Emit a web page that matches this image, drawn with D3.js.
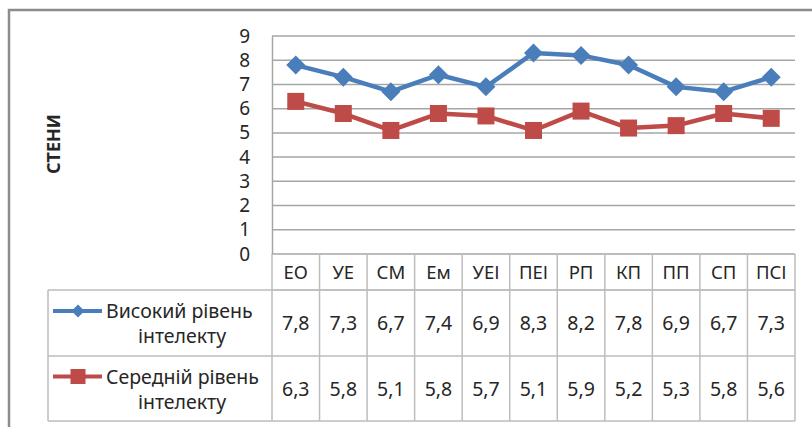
<!DOCTYPE html>
<html>
<head>
<meta charset="utf-8">
<script src="https://cdn.jsdelivr.net/npm/d3@7/dist/d3.min.js"></script>
<style>
  body { margin: 0; background: #fff; }
  svg text { font-family: "Noto Sans", "Open Sans", sans-serif; fill: #262626; }
</style>
</head>
<body>
<svg id="chart" width="812" height="427"></svg>
<script>
// Data
var categories = ["ЕО", "УЕ", "СМ", "Ем", "УЕІ", "ПЕІ", "РП", "КП", "ПП", "СП", "ПСІ"];
var highValues = [7.8, 7.3, 6.7, 7.4, 6.9, 8.3, 8.2, 7.8, 6.9, 6.7, 7.3];
var midValues = [6.3, 5.8, 5.1, 5.8, 5.7, 5.1, 5.9, 5.2, 5.3, 5.8, 5.6];
var seriesNames = [["Високий рівень", "інтелекту"], ["Середній рівень", "інтелекту"]];
var yTicks = [0, 1, 2, 3, 4, 5, 6, 7, 8, 9];
var yTitle = "СТЕНИ";

var series = [
    { name: seriesNames[0], values: highValues, color: "#4A7EBB", marker: "diamond" },
    { name: seriesNames[1], values: midValues, color: "#BE4B48", marker: "square" }
];

var svg = d3.select("#chart");
var plot = { left: 272, right: 795, top: 36, bottom: 254 };
var table = { left: 48, headerBottom: 290, row1Bottom: 356, bottom: 421 };
var gridColor = "#a6a6a6";
var tableColor = "#bdbdbd";

var x = d3.scaleBand().domain(categories).range([plot.left, plot.right]);
var y = d3.scaleLinear().domain([0, 9]).range([plot.bottom, plot.top]);

// Outer frame (only top and left are in view)
svg.append("path")
    .attr("d", "M9,427 V10 H812")
    .attr("fill", "none")
    .attr("stroke", "#8c8c8c")
    .attr("stroke-width", 2.5);

// Gridlines
svg.append("g").selectAll("line")
    .data(yTicks)
    .enter()
    .append("line")
    .attr("x1", plot.left)
    .attr("x2", plot.right)
    .attr("y1", function (d) { return y(d); })
    .attr("y2", function (d) { return y(d); })
    .attr("stroke", gridColor)
    .attr("stroke-width", 1.5);

// Y axis
var yAxis = svg.append("g")
    .attr("transform", "translate(" + plot.left + ",0)")
    .call(d3.axisLeft(y).tickValues(yTicks).tickSize(0).tickPadding(22));
yAxis.select(".domain").attr("stroke", gridColor).attr("stroke-width", 1.5);
yAxis.selectAll("text")
    .attr("font-size", 19)
    .style("font-family", "'Noto Sans', sans-serif")
    .attr("fill", "#262626");

// Axis title
svg.append("text")
    .attr("transform", "translate(60,144) rotate(-90)")
    .attr("text-anchor", "middle")
    .attr("font-size", 18)
    .attr("font-weight", "bold")
    .text(yTitle);

// Data table grid
var tg = svg.append("g")
    .attr("stroke", tableColor)
    .attr("stroke-width", 1.5);
// vertical lines between category columns
tg.selectAll("line.v")
    .data(categories.map(function (c) { return x(c); }).concat([plot.right]))
    .enter()
    .append("line")
    .attr("class", "v")
    .attr("x1", function (d) { return d; })
    .attr("x2", function (d) { return d; })
    .attr("y1", plot.bottom)
    .attr("y2", table.bottom);
// horizontal lines
[
    [plot.left, table.headerBottom], [table.left, table.headerBottom],
    [table.left, table.row1Bottom], [table.left, table.bottom]
].forEach(function (h) {
    tg.append("line")
        .attr("x1", h[0]).attr("x2", plot.right)
        .attr("y1", h[1]).attr("y2", h[1]);
});
tg.append("line")
    .attr("x1", table.left).attr("x2", table.left)
    .attr("y1", table.headerBottom).attr("y2", table.bottom);

// Category header
svg.append("g").selectAll("text")
    .data(categories)
    .enter()
    .append("text")
    .attr("x", function (d) { return x(d) + x.bandwidth() / 2; })
    .attr("y", (plot.bottom + table.headerBottom) / 2 + 7)
    .attr("text-anchor", "middle")
    .attr("font-size", 18.5)
    .text(function (d) { return d; });

function drawMarker(g, type, cx, cy, color, s) {
    if (type === "diamond") {
        g.append("path")
            .attr("d", "M" + cx + "," + (cy - s) + " L" + (cx + s) + "," + cy + " L" + cx + "," + (cy + s) + " L" + (cx - s) + "," + cy + " Z")
            .attr("fill", color);
    } else {
        g.append("rect")
            .attr("x", cx - s).attr("y", cy - s)
            .attr("width", s * 2).attr("height", s * 2)
            .attr("fill", color);
    }
}

var rowBounds = [[table.headerBottom, table.row1Bottom], [table.row1Bottom, table.bottom]];
var fmt = function (v) { return d3.format(".1f")(v).replace(".", ","); };

series.forEach(function (s, i) {
    var g = svg.append("g");
    // line
    g.append("path")
        .datum(s.values)
        .attr("fill", "none")
        .attr("stroke", s.color)
        .attr("stroke-width", 4.5)
        .attr("stroke-linejoin", "round")
        .attr("d", d3.line()
            .x(function (d, k) { return x(categories[k]) + x.bandwidth() / 2; })
            .y(function (d) { return y(d); }));
    s.values.forEach(function (v, k) {
        drawMarker(g, s.marker, x(categories[k]) + x.bandwidth() / 2, y(v), s.color, s.marker === "diamond" ? 9.5 : 8.5);
    });

    // table row
    var top = rowBounds[i][0], bot = rowBounds[i][1], mid = (top + bot) / 2;
    svg.append("g").selectAll("text")
        .data(s.values)
        .enter()
        .append("text")
        .attr("x", function (d, k) { return x(categories[k]) + x.bandwidth() / 2; })
        .attr("y", mid + 7)
        .attr("text-anchor", "middle")
        .attr("font-size", 19.5)
        .text(fmt);

    // legend key
    var lg = svg.append("g");
    lg.append("line")
        .attr("x1", 53).attr("x2", 102)
        .attr("y1", mid - 12).attr("y2", mid - 12)
        .attr("stroke", s.color)
        .attr("stroke-width", 4);
    drawMarker(lg, s.marker, 78, mid - 12, s.color, s.marker === "diamond" ? 6.5 : 7.5);
    lg.append("text")
        .attr("x", 106).attr("y", mid - 5)
        .attr("font-size", 19.5)
        .text(s.name[0]);
    lg.append("text")
        .attr("x", 182).attr("y", mid + 20)
        .attr("text-anchor", "middle")
        .attr("font-size", 19.5)
        .text(s.name[1]);
});
</script>
</body>
</html>
